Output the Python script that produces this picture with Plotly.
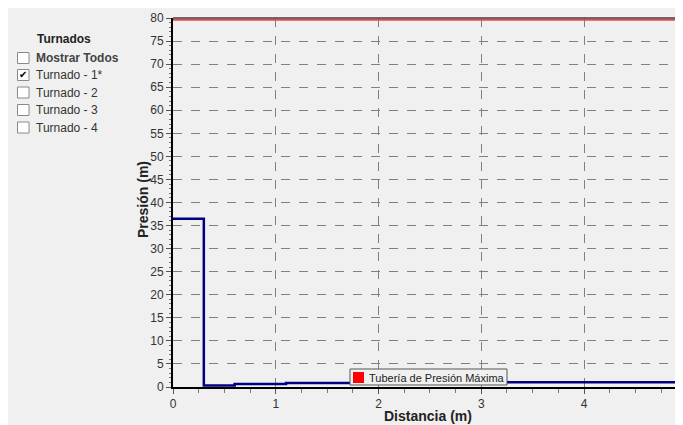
import plotly.graph_objects as go

# Data
dist = [0.0, 0.30, 0.60, 1.10, 2.50, 4.92]
presion = [36.5, 0.35, 0.65, 0.85, 1.05, 1.05]
max_x = [0.0, 4.97]
max_y = [79.6, 79.6]
turnados = ["Mostrar Todos", "Turnado - 1*", "Turnado - 2", "Turnado - 3", "Turnado - 4"]
checked = [False, True, False, False, False]
legend_label = "Tubería de Presión Máxima"

OFF = 8  # browser body margin
W, H = 683 - OFF, 425 - OFF
L, R, T, B = 173 - OFF, 683 - OFF, 18 - OFF, 387 - OFF


def px(x):
    return (x - OFF - L) / (R - L)


def py(y):
    return (B - (y - OFF)) / (B - T)


FONT = "Liberation Sans, Arial, sans-serif"

fig = go.Figure()
fig.add_trace(go.Scatter(x=max_x, y=max_y, mode="lines", name=legend_label,
                         line=dict(color="#e8484a", width=2), showlegend=False,
                         hoverinfo="skip"))
fig.add_trace(go.Scatter(x=dist, y=presion, mode="lines", line_shape="hv",
                         line=dict(color="#000080", width=2.5), showlegend=False))
fig.add_trace(go.Scatter(x=[dist[-1] + 0.045], y=[presion[-1]], mode="markers",
                         marker=dict(symbol="square-open", size=10, color="#666",
                                     line=dict(width=1.2)), showlegend=False,
                         cliponaxis=False, hoverinfo="skip"))

shapes = []
# top border
shapes.append(dict(type="line", xref="paper", yref="paper",
                   x0=0, x1=1, y0=1, y1=1, line=dict(color="#404040", width=1.5)))
# legend box
shapes.append(dict(type="rect", xref="paper", yref="paper",
                   x0=px(350), x1=px(507), y0=py(385), y1=py(369),
                   fillcolor="#f0f0f0", line=dict(color="#555", width=1), layer="above"))
shapes.append(dict(type="rect", xref="paper", yref="paper",
                   x0=px(353), x1=px(364), y0=py(383), y1=py(372),
                   fillcolor="#ff0000", line_width=0, layer="above"))

annotations = []
annotations.append(dict(text=legend_label, xref="paper", yref="paper",
                        x=px(367), y=py(377.5), showarrow=False, xanchor="left",
                        yanchor="middle", font=dict(size=11, color="#222", family=FONT)))
annotations.append(dict(text="<b>Turnados</b>", xref="paper", yref="paper",
                        x=px(64), y=py(39), showarrow=False, xanchor="center",
                        yanchor="middle", font=dict(size=12, color="#222", family=FONT)))
rows_y = [58, 75, 92.5, 110, 127.5]
for name, chk, yc in zip(turnados, checked, rows_y):
    shapes.append(dict(type="rect", xref="paper", yref="paper",
                       x0=px(17.5), x1=px(29), y0=py(yc + 5.5), y1=py(yc - 5.5),
                       fillcolor="white", line=dict(color="#8a8a8a", width=1)))
    if chk:
        annotations.append(dict(text="✔", xref="paper", yref="paper",
                                x=px(23.3), y=py(yc), showarrow=False,
                                xanchor="center", yanchor="middle",
                                font=dict(size=10, color="black", family="DejaVu Sans")))
    label = "<b>%s</b>" % name if name == "Mostrar Todos" else name
    annotations.append(dict(text=label, xref="paper", yref="paper",
                            x=px(34), y=py(yc), showarrow=False,
                            xanchor="left", yanchor="middle",
                            font=dict(size=12, color="#444" if name == "Mostrar Todos" else "#333",
                                      family=FONT)))

annotations.append(dict(text="<b>Presión (m)</b>", xref="paper", yref="paper",
                        x=px(143), y=py(200), showarrow=False, textangle=-90,
                        xanchor="center", yanchor="middle",
                        font=dict(size=14, color="#222", family=FONT)))
annotations.append(dict(text="<b>Distancia (m)</b>", xref="paper", yref="paper",
                        x=px(428), y=py(416), showarrow=False,
                        xanchor="center", yanchor="middle",
                        font=dict(size=14, color="#222", family=FONT)))

fig.update_layout(
    width=W, height=H,
    margin=dict(l=L, r=W - R, t=T, b=H - B, pad=0),
    paper_bgcolor="#f0f0f0", plot_bgcolor="#f0f0f0",
    font=dict(family=FONT, size=12, color="#333"),
    shapes=shapes, annotations=annotations,
    showlegend=False,
    xaxis=dict(range=[0, (R - L) / 102.75], tick0=0, dtick=1,
               showgrid=True, gridcolor="#808080", griddash="dash", gridwidth=1,
               zeroline=False, showline=True, linecolor="black", linewidth=2,
               ticks="outside", ticklen=5, tickcolor="#555",
               minor=dict(dtick=0.25, ticks="outside", ticklen=4, tickcolor="#777",
                          showgrid=False),
               tickfont=dict(size=12, color="#333", family=FONT), fixedrange=True),
    yaxis=dict(range=[0, 80], tick0=0, dtick=5,
               showgrid=True, gridcolor="#808080", griddash="dash", gridwidth=1,
               zeroline=False, showline=True, linecolor="black", linewidth=2,
               ticks="outside", ticklen=5, tickcolor="#555",
               minor=dict(dtick=1, ticks="outside", ticklen=2, tickcolor="#777",
                          showgrid=False),
               tickfont=dict(size=12, color="#333", family=FONT), fixedrange=True),
)

fig.write_html("out.html")
